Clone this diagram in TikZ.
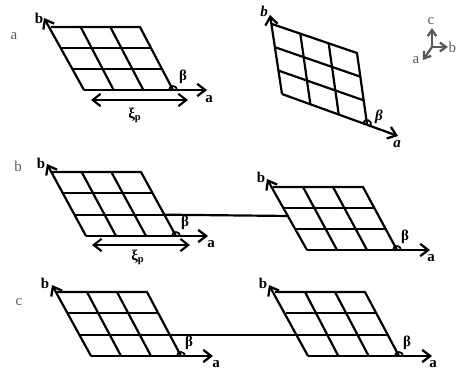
\documentclass[tikz,border=0pt]{standalone}
\usepackage{fontspec}
\setmainfont{Liberation Serif}
\usetikzlibrary{arrows.meta}
\usetikzlibrary{calc}
\tikzset{
  gridline/.style={line width=1.25pt, black},
  axisline/.style={gridline, -{Straight Barb[length=4.5pt,width=7pt,line width=1.3pt]}},
  spanline/.style={line width=1.2pt, black, {Straight Barb[length=4.5pt,width=7pt]}-{Straight Barb[length=4.5pt,width=7pt]}},
  triadline/.style={line width=1.3pt, black!65, -{Straight Barb[length=3.5pt,width=5pt]}},
  axislabel/.style={font=\fontsize{8.5}{10}\selectfont\bfseries, black, inner sep=0pt},
  slantlabel/.style={font=\fontsize{8.5}{10}\selectfont\bfseries\itshape, black, inner sep=0pt},
  paneltag/.style={font=\fontsize{8.5}{10}\selectfont, black!65, inner sep=0pt}
}
% #1 prefix, #2 bottom left, #3 bottom right, #4 top left, #5 top right, #6 tip of a, #7 tip of b
\newcommand{\latticepanel}[7]{
  \coordinate (#1bl) at #2;
  \coordinate (#1br) at #3;
  \coordinate (#1tl) at #4;
  \coordinate (#1tr) at #5;
  \coordinate (#1atip) at #6;
  \coordinate (#1btip) at #7;
  \draw[gridline] (#1tl) -- (#1tr) -- (#1br);
  \foreach \i in {1,2} {
    \draw[gridline] ($(#1bl)!\i/3!(#1br)$) -- ($(#1tl)!\i/3!(#1tr)$);
    \draw[gridline] ($(#1bl)!\i/3!(#1tl)$) -- ($(#1br)!\i/3!(#1tr)$);
  }
  \draw[axisline] (#1bl) -- (#1atip);
  \draw[axisline] (#1bl) -- (#1btip);
}
\begin{document}
\begin{tikzpicture}[x=0.02cm,y=-0.02cm]
        \useasboundingbox (0,0) rectangle (457,373);
        % Top row
        \latticepanel{p}{(84,90)}{(173,90)}{(51,27)}{(140,27)}{(207,90)}{(44,18)}
        \latticepanel{q}{(282,94)}{(367,124)}{(272,24)}{(357,53)}{(398,136)}{(270,15)}
        % Middle row
        \latticepanel{r}{(86,236)}{(176,236)}{(52,172)}{(141,172)}{(208,236)}{(47,164)}
        \latticepanel{s}{(307,250)}{(397,250)}{(273,187)}{(363,187)}{(430,250)}{(267,179)}
        % Bottom row
        \latticepanel{t}{(91,356)}{(181,356)}{(57,292)}{(147,292)}{(213,356)}{(52,285)}
        \latticepanel{u}{(308,356)}{(399,356)}{(275,292)}{(365,292)}{(432,356)}{(269,285)}
        % Links between the panels
        \coordinate (rlink) at ($(rbr)!1/3!(rtr)$);
        \coordinate (slink) at ($(sbl)!0.54!(stl)$);
        \draw[gridline] (rlink) -- (slink);
        \coordinate (tlink) at ($(tbr)!1/3!(ttr)$);
        \coordinate (ulink) at ($(ubl)!1/3!(utl)$);
        \draw[gridline] (tlink) -- (ulink);
        % Angle marks
        \foreach \c/\ang in {pbr/0, qbr/19, rbr/0, sbr/0, tbr/0, ubr/0} {
          \draw[line width=1pt, black] (\c) ++(\ang:4) arc[start angle=\ang, delta angle=-180, radius=4];
        }
        % Span arrows
        \coordinate (pspanl) at (91,100);
        \coordinate (pspanr) at (188,100);
        \draw[spanline] (pspanl) -- (pspanr);
        \coordinate (rspanl) at (92,245);
        \coordinate (rspanr) at (190,245);
        \draw[spanline] (rspanl) -- (rspanr);
        % Labels
        \node[paneltag] (taga) at (14,36) {a};
        \node[paneltag] (tagb) at (18,166) {b};
        \node[paneltag] (tagc) at (19,302) {c};
        \node[axislabel] (pb) at (39,18) {b};
        \node[axislabel] (pa) at (209,99) {a};
        \node[axislabel] (pbeta) at (183,77) {β};
        \node[axislabel] (pxi) at (135,115) {ξ\textsubscript{p}};
        \node[slantlabel] (qb) at (264,11) {b};
        \node[slantlabel] (qa) at (397,144) {a};
        \node[slantlabel] (qbeta) at (379,117) {β};
        \node[axislabel] (rb) at (41,163) {b};
        \node[axislabel] (ra) at (211,244) {a};
        \node[axislabel] (rbeta) at (185,223) {β};
        \node[axislabel] (rxi) at (138,257) {ξ\textsubscript{p}};
        \node[axislabel] (sb) at (261,177) {b};
        \node[axislabel] (sa) at (431,258) {a};
        \node[axislabel] (sbeta) at (405,237) {β};
        \node[axislabel] (tb) at (45,283) {b};
        \node[axislabel] (ta) at (216,364) {a};
        \node[axislabel] (tbeta) at (189,343) {β};
        \node[axislabel] (ub) at (263,283) {b};
        \node[axislabel] (ua) at (433,364) {a};
        \node[axislabel] (ubeta) at (407,343) {β};
        % Crystal axes
        \coordinate (triad) at (432,47);
        \coordinate (triadc) at (432,28);
        \coordinate (triadb) at (448,47);
        \coordinate (triada) at (423,60);
        \draw[triadline] (triad) -- (triadc);
        \draw[triadline] (triad) -- (triadb);
        \draw[triadline] (triad) -- (triada);
        \node[paneltag] (axc) at (431,21) {c};
        \node[paneltag, anchor=east] (axb) at (456.5,47) {b};
        \node[paneltag] (axa) at (416,60) {a};
      \end{tikzpicture}
\end{document}
